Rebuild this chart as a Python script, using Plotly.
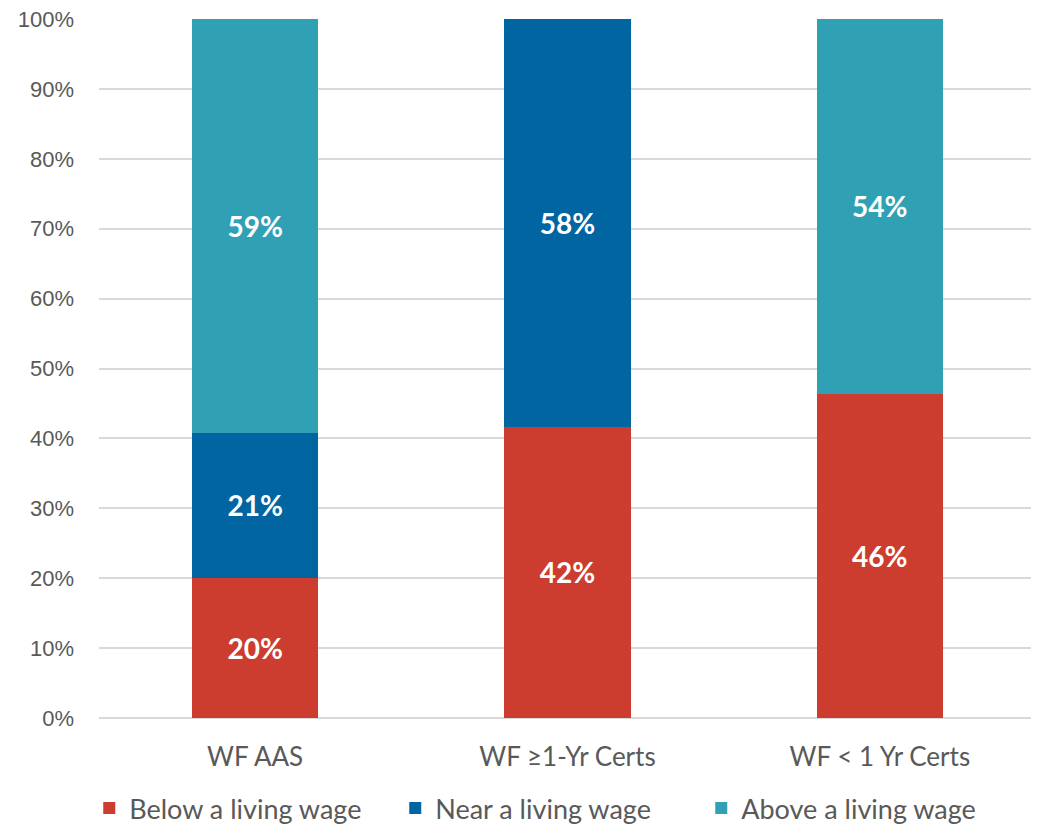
import plotly.graph_objects as go

categories = ["WF AAS", "WF \u22651-Yr Certs", "WF < 1 Yr Certs"]
below = [20.1, 41.7, 46.4]
near = [20.7, 58.3, 0]
above = [59.2, 0, 53.6]

series = [
    ("Below a living wage", below, "#CC3D2F"),
    ("Near a living wage", near, "#0065A1"),
    ("Above a living wage", above, "#30A1B5"),
]

fig = go.Figure()
for name, vals, color in series:
    labels = [f"{round(v)}%" if v > 0 else "" for v in vals]
    fig.add_trace(go.Bar(
        x=categories,
        y=vals,
        name=name,
        marker=dict(color=color, line=dict(width=0)),
        text=labels,
        texttemplate="%{text}",
        textposition="inside",
        insidetextanchor="middle",
        textfont=dict(family="Lato", size=28, color="white", weight="bold"),
        hoverinfo="name+y",
    ))

# page body has an 8px margin, so the figure is a bit smaller than the window
fig.update_layout(
    barmode="stack",
    bargap=0.595,
    width=1031,
    height=825,
    margin=dict(l=91, r=3, t=11, b=115),
    plot_bgcolor="white",
    paper_bgcolor="white",
    legend=dict(
        orientation="h",
        x=0.524,
        xanchor="center",
        xref="container",
        y=-0.015,
        yanchor="bottom",
        yref="container",
        font=dict(family="Lato", size=27, color="#595959"),
        traceorder="normal",
        entrywidth=261,
    ),
    xaxis=dict(
        tickfont=dict(family="Lato", size=26, color="#595959"),
        showgrid=False,
        ticklabelstandoff=21,
        automargin=False,
    ),
    yaxis=dict(
        range=[0, 100],
        dtick=10,
        ticksuffix="%",
        tickfont=dict(family="Liberation Sans", size=22, color="#595959"),
        ticklabeloverflow="allow",
        automargin=False,
        gridcolor="#D9D9D9",
        gridwidth=1.5,
        zeroline=True,
        zerolinecolor="#D9D9D9",
        zerolinewidth=1.5,
        ticklabelstandoff=24,
    ),
)

fig.write_html("out.html")
